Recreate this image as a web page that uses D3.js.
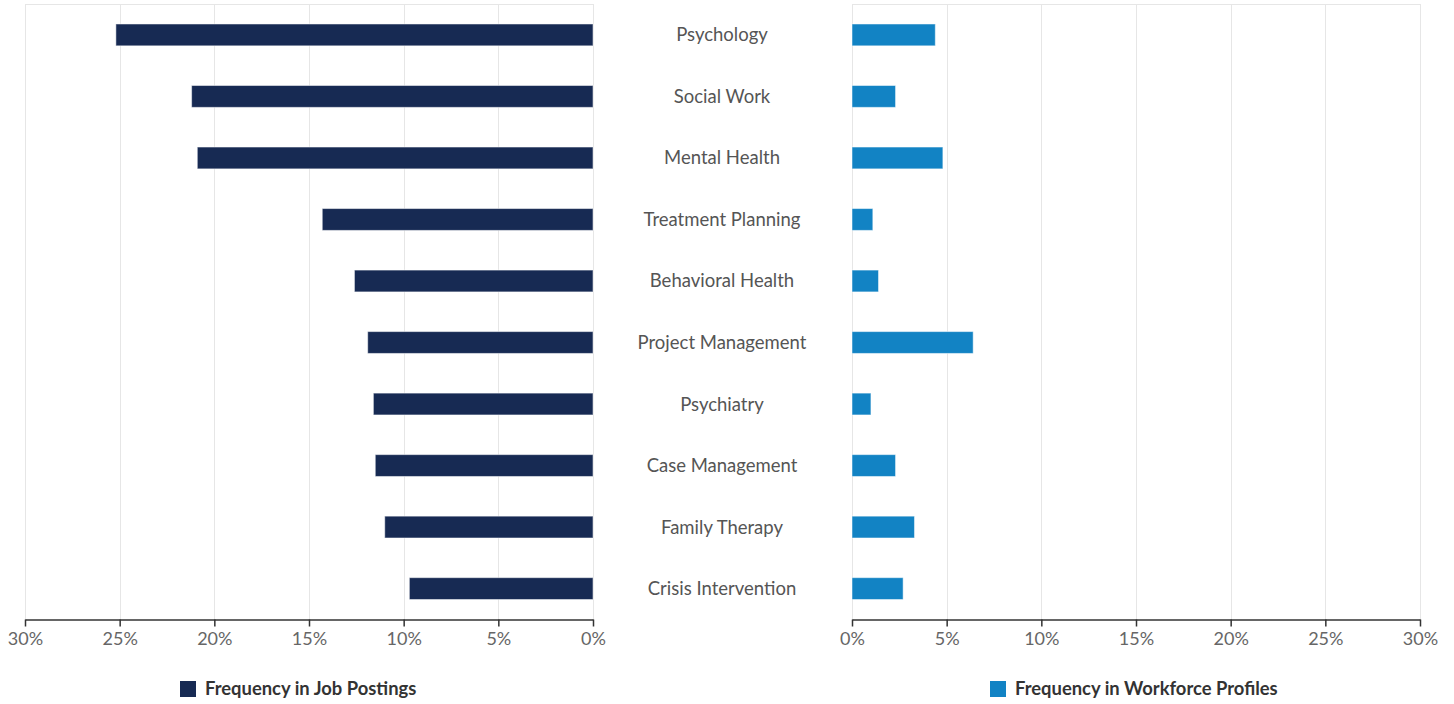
<!DOCTYPE html>
<html>
<head>
<meta charset="utf-8">
<script src="https://cdn.jsdelivr.net/npm/d3@7"></script>
<style>
  body { margin: 0; background: #fff; }
  svg { font-family: Lato, "Open Sans", sans-serif; display: block; }
</style>
</head>
<body>
<svg id="chart" width="1454" height="704"></svg>
<script>
// skill names, top to bottom
const skills = [
  "Psychology", "Social Work", "Mental Health", "Treatment Planning",
  "Behavioral Health", "Project Management", "Psychiatry",
  "Case Management", "Family Therapy", "Crisis Intervention"
];
// percent of job postings
const jobPostings = [25.2, 21.2, 20.9, 14.3, 12.6, 11.9, 11.6, 11.5, 11.0, 9.7];
// percent of workforce profiles
const workforceProfiles = [4.4, 2.3, 4.8, 1.1, 1.4, 6.4, 1.0, 2.3, 3.3, 2.7];
const tickValues = [0, 5, 10, 15, 20, 25, 30];
const seriesNames = ["Frequency in Job Postings", "Frequency in Workforce Profiles"];
const colors = ["#172a53", "#1283c4"];

const svg = d3.select("#chart");
const plotTop = 4, plotBottom = 619.5;

const y = d3.scaleBand()
  .domain(skills)
  .range([plotTop, plotBottom])
  .paddingInner(0.645)
  .paddingOuter(0.325);

const xLeft = d3.scaleLinear().domain([30, 0]).range([25, 593]);
const xRight = d3.scaleLinear().domain([0, 30]).range([852, 1420]);

function drawPanel(x, values, color, isLeft) {
  const g = svg.append("g");
  const [r0, r1] = x.range();

  // grid
  g.selectAll(".grid")
    .data(tickValues)
    .enter().append("line")
    .attr("x1", d => Math.round(x(d)) + 0.5)
    .attr("x2", d => Math.round(x(d)) + 0.5)
    .attr("y1", plotTop)
    .attr("y2", plotBottom)
    .attr("stroke", "#e6e6e6");

  // top border
  g.append("line")
    .attr("x1", r0).attr("x2", r1)
    .attr("y1", plotTop + 0.5).attr("y2", plotTop + 0.5)
    .attr("stroke", "#e6e6e6");

  // bars
  g.selectAll(".bar")
    .data(values)
    .enter().append("rect")
    .attr("x", d => isLeft ? x(d) : x(0))
    .attr("width", d => Math.abs(x(d) - x(0)))
    .attr("y", (d, i) => y(skills[i]))
    .attr("height", y.bandwidth())
    .attr("fill", color)
    .attr("stroke", "rgba(255,255,255,0.5)")
    .attr("stroke-width", 1);

  // axis
  const axis = g.append("g")
    .attr("transform", `translate(0,${plotBottom})`)
    .call(d3.axisBottom(x).tickValues(tickValues).tickFormat(d => d + "%").tickSize(7).tickSizeOuter(0));
  axis.select(".domain").attr("stroke", "#333").attr("stroke-width", 1.5);
  axis.selectAll(".tick line").attr("stroke", "#333").attr("stroke-width", 1.5);
  axis.selectAll(".tick text")
    .attr("fill", "#666")
    .attr("font-size", 18)
    .attr("dy", "0.87em")
    .style("font-family", "Lato, sans-serif");
}

drawPanel(xLeft, jobPostings, colors[0], true);
drawPanel(xRight, workforceProfiles, colors[1], false);

// category labels in the middle
svg.selectAll(".cat")
  .data(skills)
  .enter().append("text")
  .attr("x", 722)
  .attr("y", d => y(d) + y.bandwidth() / 2)
  .attr("dy", "0.35em")
  .attr("text-anchor", "middle")
  .attr("fill", "#555")
  .attr("font-size", 18.5)
  .text(d => d);

// legends
const legendX = [180, 990];
seriesNames.forEach((name, i) => {
  const lg = svg.append("g").attr("transform", `translate(${legendX[i]},681)`);
  lg.append("rect").attr("width", 16).attr("height", 16).attr("fill", colors[i]);
  lg.append("text")
    .attr("x", 25)
    .attr("y", 8)
    .attr("dy", "0.35em")
    .attr("font-size", 18.4)
    .attr("font-weight", "bold")
    .attr("fill", "#333")
    .text(name);
});
</script>
</body>
</html>
